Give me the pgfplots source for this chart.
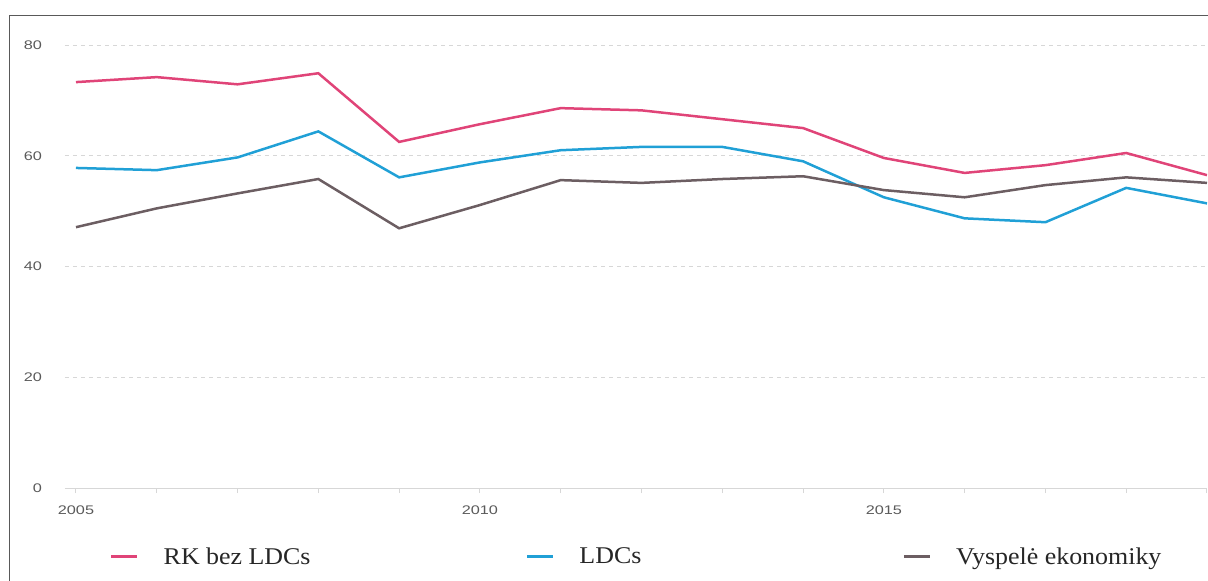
\documentclass[border=0pt]{standalone}
\usepackage{fontspec}
\usepackage{pgfplots}
\pgfplotsset{compat=1.18}
\newfontfamily\legfont[FakeStretch=1.08]{Liberation Serif}
\newfontfamily\tickfont[FakeStretch=1.3]{Liberation Sans}
\definecolor{cpink}{RGB}{224,68,120}
\definecolor{cblue}{RGB}{32,160,214}
\definecolor{cgrey}{RGB}{108,94,98}
\definecolor{cgrid}{RGB}{215,215,215}
\definecolor{ctick}{RGB}{90,90,90}

\pgfplotstableread{
year rk ldc vysp
2005 73.3 57.8 47.1
2006 74.2 57.4 50.5
2007 72.9 59.7 53.2
2008 74.9 64.4 55.8
2009 62.5 56.1 46.9
2010 65.7 58.8 51.1
2011 68.6 61.0 55.6
2012 68.2 61.6 55.1
2013 66.6 61.6 55.8
2014 65.0 59.0 56.3
2015 59.6 52.5 53.8
2016 56.9 48.7 52.5
2017 58.3 48.0 54.7
2018 60.5 54.2 56.1
2019 56.5 51.4 55.1
}\datatable

\begin{document}
\begin{tikzpicture}
\useasboundingbox (0pt,0pt) rectangle (1208pt,-581pt);
\draw[black!65, line width=1.2pt] (9.5pt,-581pt) -- (9.5pt,-15.5pt) -- (1208pt,-15.5pt);
\begin{axis}[
  at={(65pt,-488pt)}, anchor=south west,
  scale only axis, width=1142pt, height=443pt,
  xmin=2004.864, xmax=2019, ymin=0, ymax=80,
  axis x line*=bottom, axis y line*=left,
  x axis line style={draw=cgrid, line width=1pt, -},
  y axis line style={draw=none, -},
  ytick={0,20,40,60,80},
  xtick={2005,2010,2015}, minor xtick={2006,...,2019},
  ymajorgrids, grid style={cgrid, dash pattern=on 4pt off 4pt, line width=1pt},
  tick align=outside, major tick length=5pt, minor tick length=5pt,
  xtick style={draw=cgrid, line width=1pt}, ytick style={draw=none},
  /pgf/number format/assume math mode=true,
  /pgf/number format/1000 sep={},
  ticklabel style={font=\tickfont\fontsize{12.5}{14}\selectfont, text=ctick, inner sep=0pt, outer sep=0pt},
  xticklabel style={anchor=north, yshift=-12.5pt},
  yticklabel style={anchor=east, xshift=-18pt},
  legend columns=3,
  legend image code/.code={\draw[#1, line width=3pt] (0pt,0pt) -- (26pt,0pt); \path (51pt,0pt);},
  legend style={draw=none, fill=none, inner sep=0pt, outer sep=0pt,
    at={(axis description cs:0.0394,-0.155)}, anchor=west,
    font=\legfont\fontsize{24}{28}\selectfont, text=black!85,
    nodes={inner sep=0pt}},
  legend cell align=left,
]
\addplot[cpink, line width=2.5pt] table[x=year, y=rk] {\datatable};
\addlegendentry{\makebox[362pt][l]{RK bez LDCs}}
\addplot[cblue, line width=2.5pt] table[x=year, y=ldc] {\datatable};
\addlegendentry{\makebox[323pt][l]{LDCs}}
\addplot[cgrey, line width=2.5pt] table[x=year, y=vysp] {\datatable};
\addlegendentry{Vyspelė ekonomiky}
\end{axis}
\end{tikzpicture}
\end{document}
